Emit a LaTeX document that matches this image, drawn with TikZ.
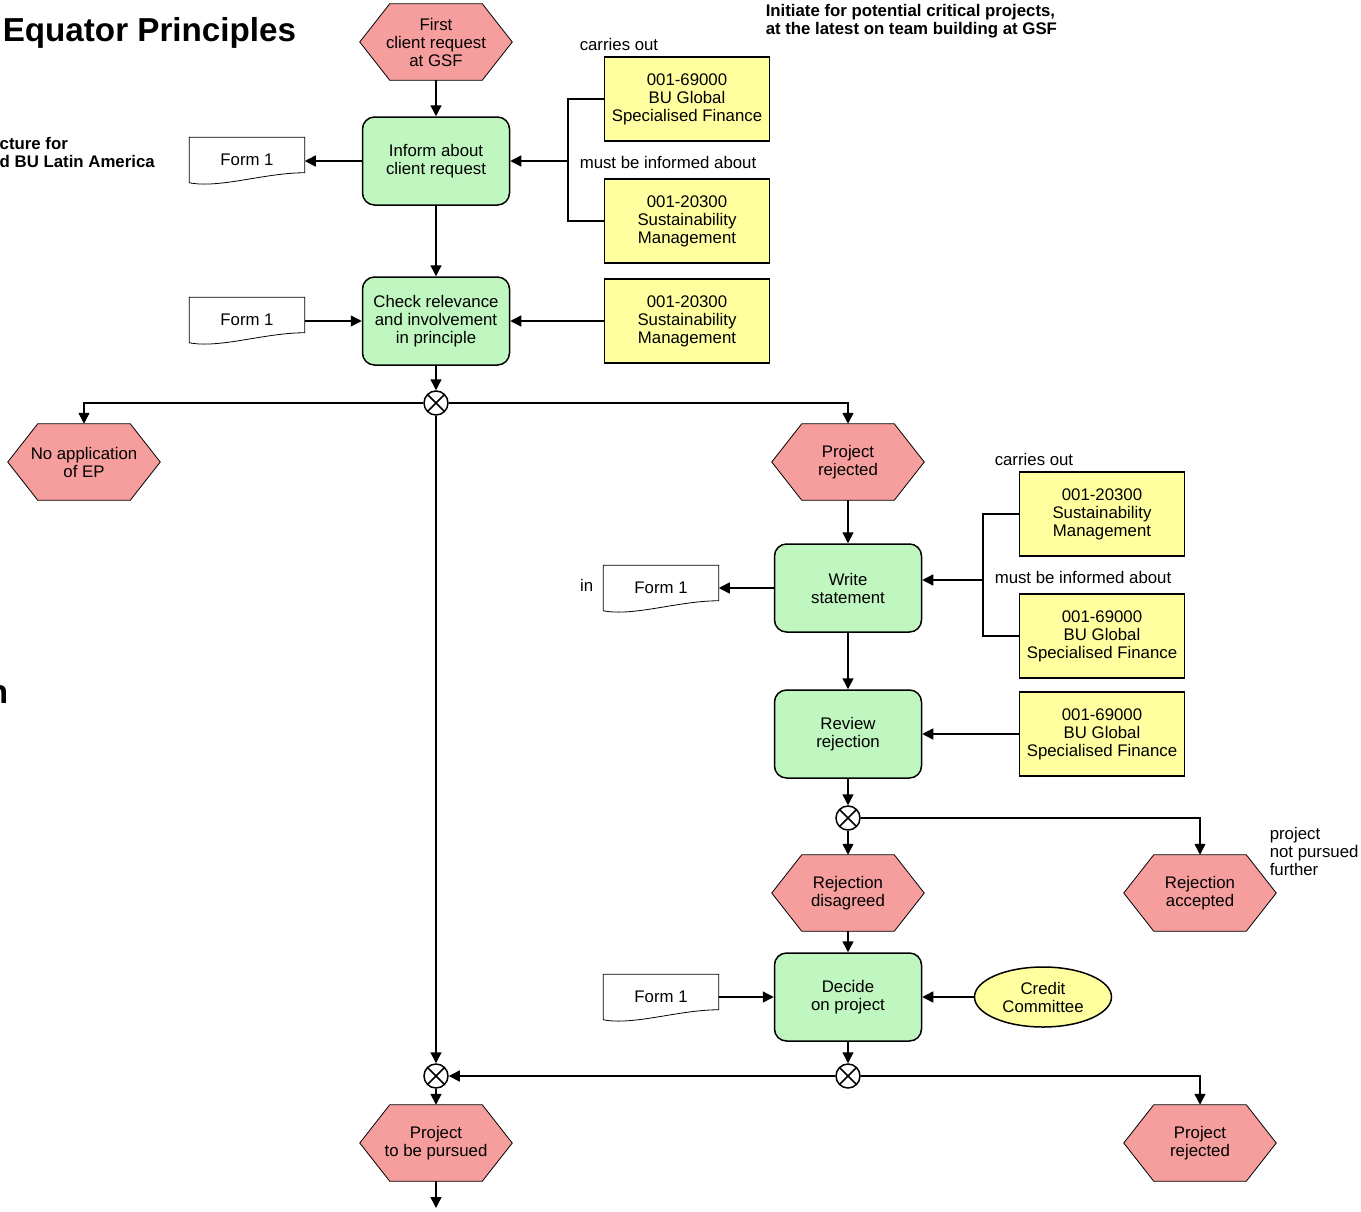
\documentclass[tikz,border=0pt]{standalone}
\usepackage{fontspec}
\setmainfont{Liberation Sans}
\usetikzlibrary{shapes.geometric,arrows.meta,backgrounds}
\definecolor{evtred}{RGB}{246,158,158}
\definecolor{fctgreen}{RGB}{192,246,192}
\definecolor{orgyellow}{RGB}{255,255,160}
\tikzset{
  evt/.style={minimum width=75.5pt, minimum height=37.5pt, inner sep=0pt, align=center},
  fct/.style={draw, rounded corners=6pt, fill=fctgreen, minimum width=73.5pt, minimum height=44pt, inner sep=0pt, align=center},
  org/.style={draw, fill=orgyellow, minimum width=82.5pt, minimum height=42pt, inner sep=0pt, align=center},
  role/.style={draw, ellipse, fill=orgyellow, minimum width=68.5pt, minimum height=30pt, inner sep=0pt, align=center},
  doc/.style={minimum width=57pt, minimum height=22pt, inner sep=0pt},
  xor/.style={draw, circle, fill=white, minimum size=12pt, inner sep=0pt,
    path picture={\draw (path picture bounding box.north west) -- (path picture bounding box.south east)
      (path picture bounding box.north east) -- (path picture bounding box.south west);}},
  lbl/.style={inner sep=0pt, align=left},
  ttl/.style={inner sep=0pt, align=left, font=\fontsize{8.4}{9}\selectfont\bfseries},
  ttlbig/.style={inner sep=0pt, font=\fontsize{16.6}{20}\selectfont\bfseries},
  arr/.style={-{Triangle[length=5.5pt,width=5.5pt]}},
}

\begin{document}
\begin{tikzpicture}[x=0.5pt, y=-0.5pt, line width=0.75pt, font=\fontsize{8.4}{9}\selectfont]
\useasboundingbox (0,0) rectangle (1361,1211);

% headings
\node[ttlbig, anchor=base west] (title) at (2,41) {Equator Principles};
\node[ttl, anchor=north west] (hint) at (765,4) {Initiate for potential critical projects,\\at the latest on team building at GSF};
\node[ttl, anchor=north west] (cut1) at (-1,137) {cture for\\d BU Latin America};
\node[ttlbig, anchor=base east] (cut2) at (9,703) {n};

% events
\node[evt] (start) at (436,42) {First\\client request\\at GSF};
\node[evt] (noep) at (84,462) {No application\\of EP};
\node[evt] (rej1) at (848,462) {Project\\rejected};
\node[evt] (disagr) at (848,893) {Rejection\\disagreed};
\node[evt] (accept) at (1200,893) {Rejection\\accepted};
\node[evt] (pursue) at (436,1143) {Project\\to be pursued};
\node[evt] (rej2) at (1200,1143) {Project\\rejected};

% functions
\node[fct] (inform) at (436,161) {Inform about\\client request};
\node[fct] (check) at (436,321) {Check relevance\\and involvement\\in principle};
\node[fct] (write) at (848,588) {Write\\statement};
\node[fct] (review) at (848,734) {Review\\rejection};
\node[fct] (decide) at (848,997) {Decide\\on project};

% organisational units
\node[org] (gsf1) at (687,99) {001-69000\\BU Global\\Specialised Finance};
\node[org] (sus1) at (687,221) {001-20300\\Sustainability\\Management};
\node[org] (sus2) at (687,321) {001-20300\\Sustainability\\Management};
\node[org] (sus3) at (1102,514) {001-20300\\Sustainability\\Management};
\node[org] (gsf2) at (1102,636) {001-69000\\BU Global\\Specialised Finance};
\node[org] (gsf3) at (1102,734) {001-69000\\BU Global\\Specialised Finance};
\node[role] (cc) at (1043,997) {Credit\\Committee};

% documents
\node[doc] (form1) at (247,160) {Form 1};
\node[doc] (form2) at (247,320) {Form 1};
\node[doc] (form3) at (661,588) {Form 1};
\node[doc] (form4) at (661,997) {Form 1};

% connectors
\node[xor] (x1) at (436,403) {};
\node[xor] (x2) at (848,818) {};
\node[xor] (x3) at (436,1076) {};
\node[xor] (x4) at (848,1076) {};

% labels
\node[lbl, anchor=west] (carry1) at (579,44) {carries out};
\node[lbl, anchor=west] (info1) at (579,162) {must be informed about};
\node[lbl, anchor=west] (carry2) at (994,459) {carries out};
\node[lbl, anchor=west] (info2) at (994,577) {must be informed about};
\node[lbl, anchor=east] (in) at (594,585) {in};
\node[lbl, anchor=west] (notfurther) at (1269,851) {project\\not pursued\\further};

\begin{scope}[on background layer]
\foreach \n in {start,noep,rej1,disagr,accept,pursue,rej2}
  \draw[fill=evtred] (\n.west) -- ([xshift=15pt]\n.north west) -- ([xshift=-15pt]\n.north east)
    -- (\n.east) -- ([xshift=-15pt]\n.south east) -- ([xshift=15pt]\n.south west) -- cycle;
\foreach \n in {form1,form2,form3,form4}
  \draw[fill=white] (\n.south west) -- (\n.north west) -- (\n.north east) -- ([yshift=5pt]\n.south east)
    .. controls +(-20pt,0pt) and +(15pt,-3pt) .. (\n.south west);
\end{scope}

% upper part
\draw[arr] (start) -- (inform);
\draw[arr] (inform.west) -- (inform.west -| form1.east);
\coordinate (b1) at (568,161);
\draw (gsf1.west) -| (b1) |- (sus1.west);
\draw[arr] (b1) -- (inform.east);
\draw[arr] (inform) -- (check);
\draw[arr] (form2.east |- check.west) -- (check.west);
\draw[arr] (sus2) -- (check);
\draw[arr] (check) -- (x1);
\draw[arr] (x1) -| (noep);
\draw[arr] (x1) -| (rej1);
\draw[arr] (x1) -- (x3);

% rejection branch
\draw[arr] (rej1) -- (write);
\draw[arr] (write) -- (form3);
\coordinate (b2) at (983,580);
\draw (sus3.west) -| (b2) |- (gsf2.west);
\draw[arr] (b2) -- (b2 -| write.east);
\draw[arr] (write) -- (review);
\draw[arr] (gsf3) -- (review);
\draw[arr] (review) -- (x2);
\draw[arr] (x2) -- (disagr);
\draw[arr] (x2) -| (accept);
\draw[arr] (disagr) -- (decide);
\draw[arr] (form4) -- (decide);
\draw[arr] (cc) -- (decide);
\draw[arr] (decide) -- (x4);
\draw[arr] (x4) -- (x3);
\draw[arr] (x4) -| (rej2);
\draw[arr] (x3) -- (pursue);
\coordinate (out) at (436,1208);
\draw[arr] (pursue) -- (out);
\end{tikzpicture}
\end{document}
